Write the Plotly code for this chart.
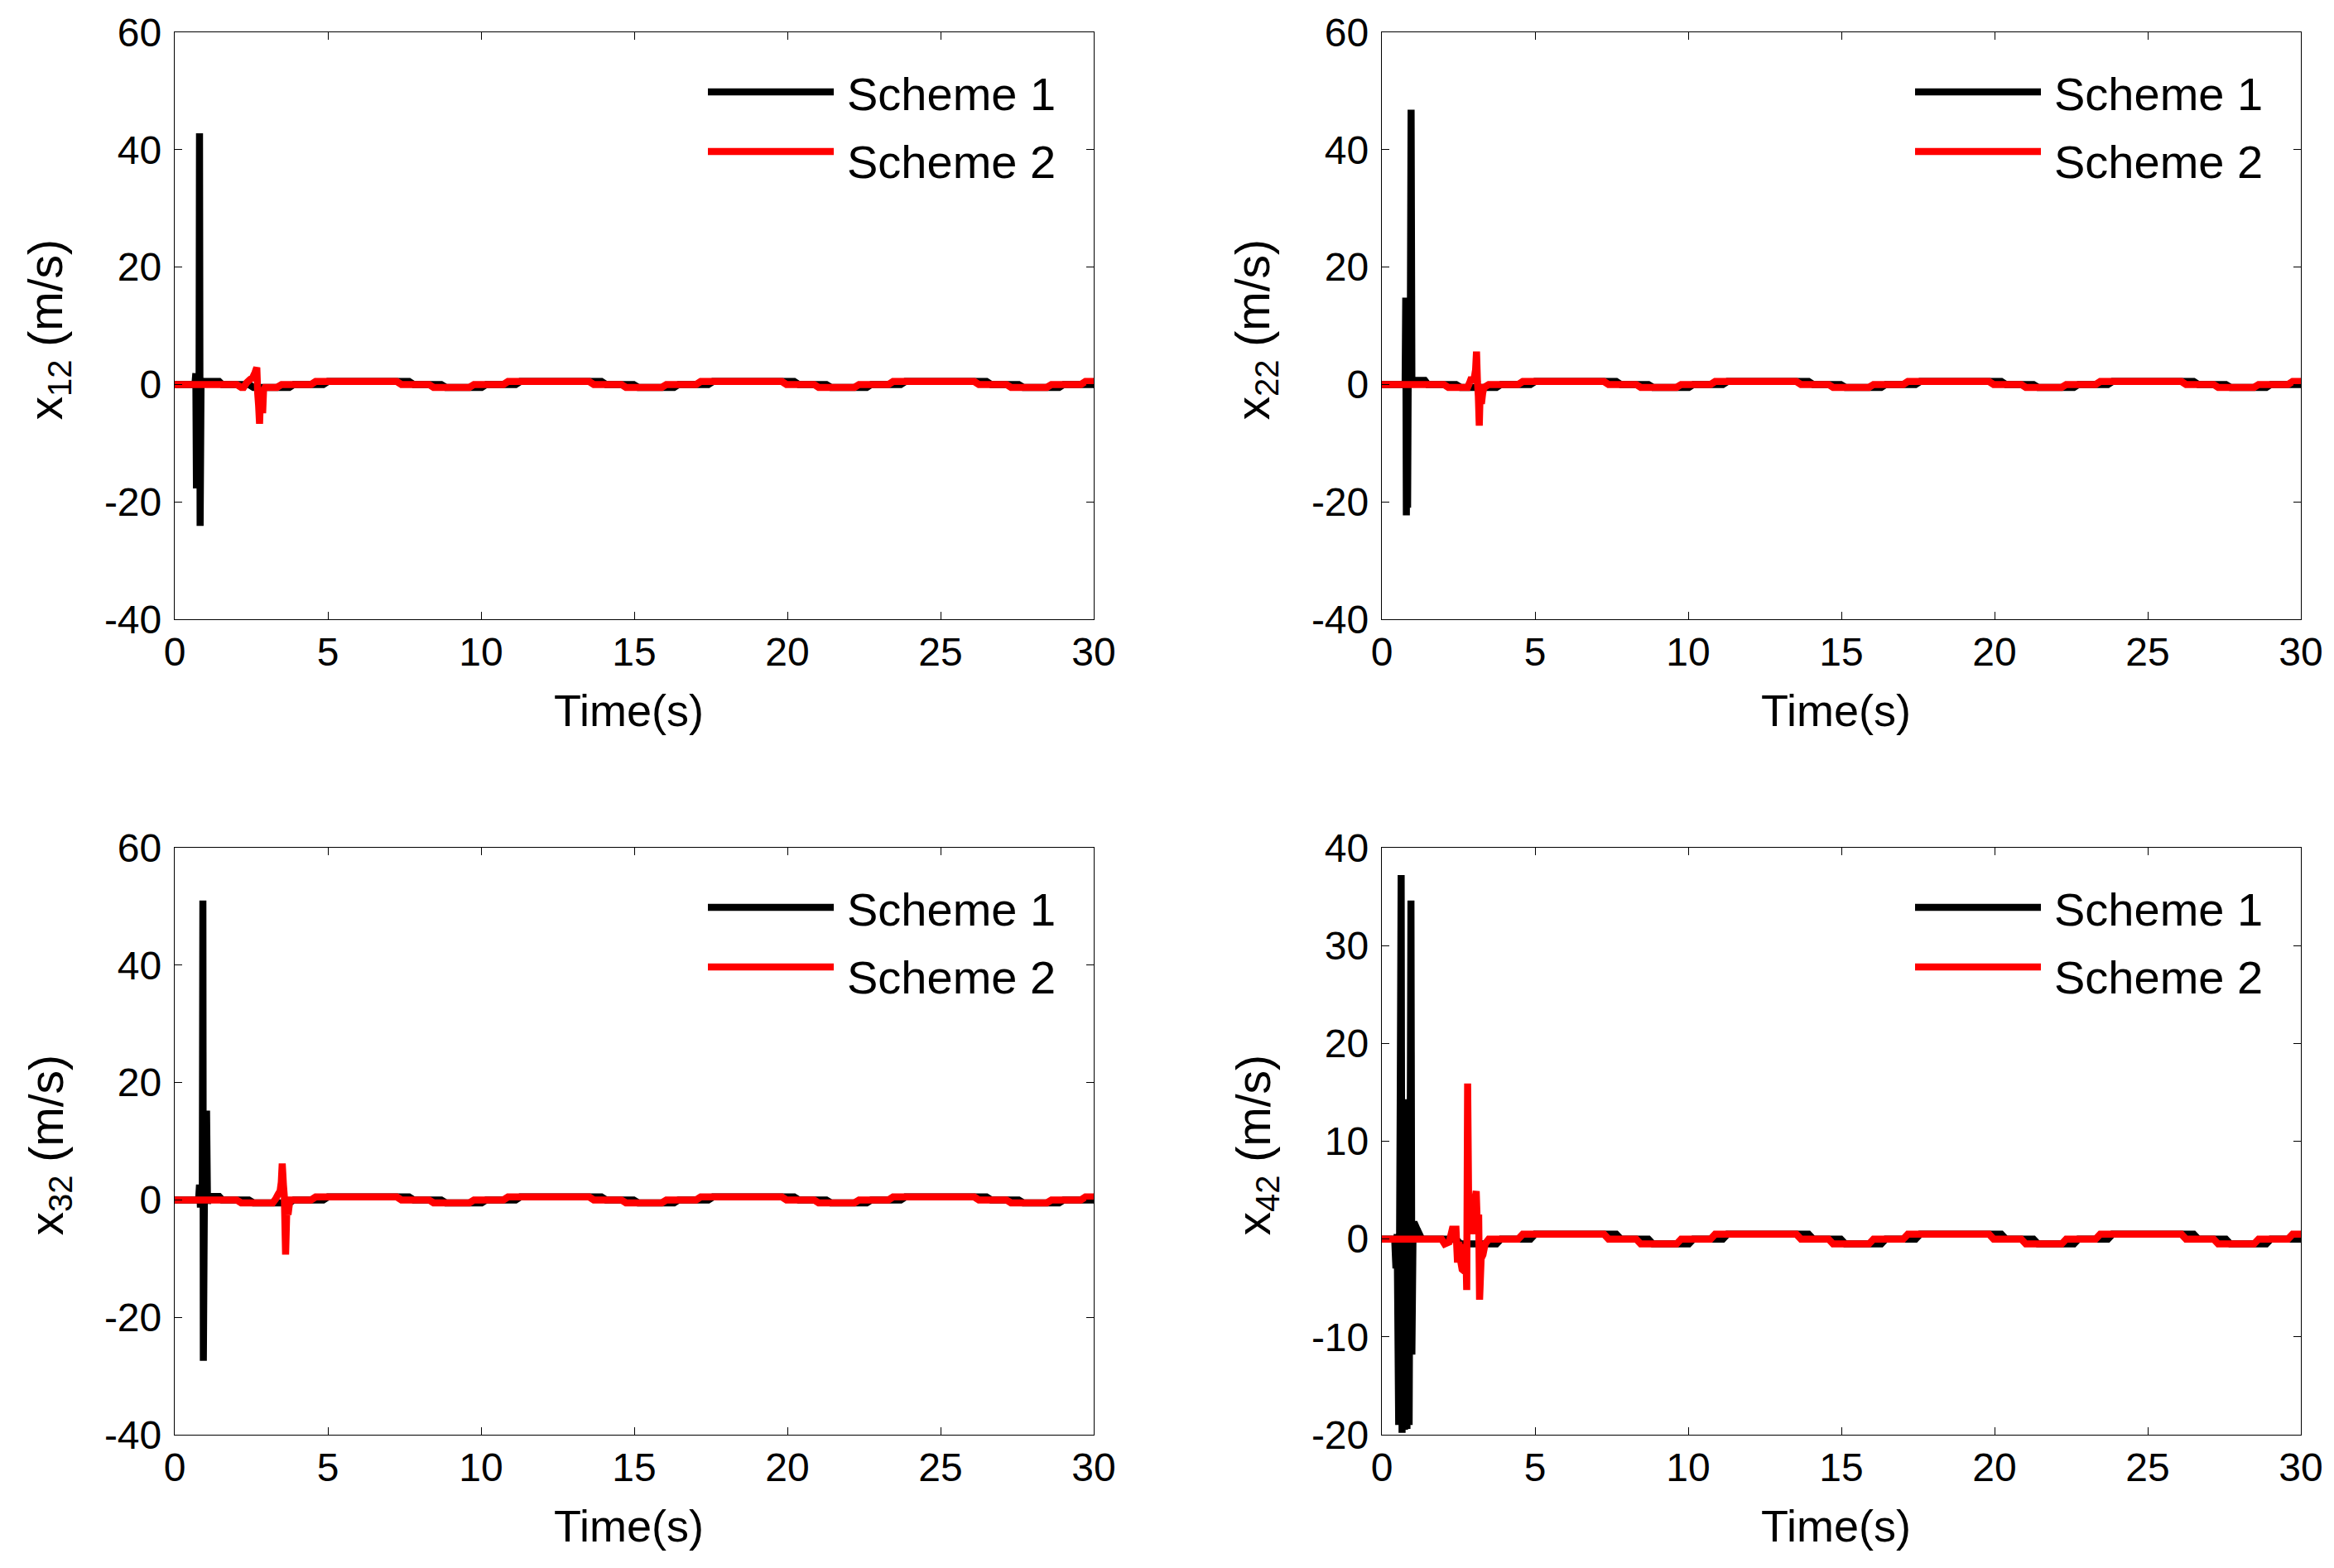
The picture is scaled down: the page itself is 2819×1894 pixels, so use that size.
import plotly.graph_objects as go

W, H = 2819, 1894

# ---------------- data ----------------
# shared tracking staircase (time of each step, level after the step)
ref_step_t = [2.02, 3.34, 4.45, 7.25, 8.30, 9.62, 10.73, 13.53, 14.58, 15.90,
              17.02, 19.82, 20.87, 22.19, 23.30, 26.10, 27.15, 28.47, 29.58]
ref_step_v = [-0.5, 0.0, 0.5, 0.0, -0.5, 0.0, 0.5, 0.0, -0.5, 0.0,
              0.5, 0.0, -0.5, 0.0, 0.5, 0.0, -0.5, 0.0, 0.5]
ref_start = 0.0
ramp = 0.15
s1_lag = 0.40  # Scheme 1 follows the staircase slightly later

# transient parts (time, value)
x12_s1_t = [0, 0.66, 0.69, 0.71, 0.73, 0.75, 0.77, 0.79, 0.81, 0.83, 0.86, 0.90, 1.45, 1.55]
x12_s1_v = [0, 0, 1.9, -17.7, 1.5, -17.0, 1.8, -17.5, 42.8, -24.1, 0.8, 0.5, 0.5, 0]
x12_s2_t = [2.25, 2.35, 2.45, 2.55, 2.62, 2.68, 2.71, 2.74, 2.77, 2.80, 2.84, 2.87, 2.90, 2.95]
x12_s2_v = [-0.5, 0.3, 0.8, 1.2, 2.0, 2.9, -1.5, -3.6, -6.7, -2.0, -1.8, -4.9, -1.0, -0.5]

x22_s1_t = [0, 0.76, 0.78, 0.80, 0.82, 0.84, 0.87, 0.90, 0.93, 0.955, 0.98, 1.02, 1.40, 1.50]
x22_s1_v = [0, 0, 14.8, -22.3, 14.5, -21.0, 13.0, 2.0, 10.0, 46.8, 0.7, 0.7, 0.7, 0.0]
x22_s2_t = [2.80, 2.88, 2.93, 2.98, 3.03, 3.06, 3.09, 3.12, 3.15, 3.18, 3.21, 3.25, 3.29, 3.33]
x22_s2_v = [-0.5, 0.5, 1.2, 0.3, 1.5, 2.5, 5.6, 0.5, -2.0, -7.0, -1.0, -3.3, -1.5, -0.5]

x32_s1_t = [0, 0.78, 0.81, 0.84, 0.87, 0.90, 0.92, 0.935, 0.97, 1.01, 1.04, 1.07, 1.12, 1.45, 1.55]
x32_s1_v = [0, 0, 2.6, -1.3, 2.6, -1.2, 51.0, -27.4, 1.0, -0.5, 15.2, -0.6, 0.6, 0.6, 0.0]
x32_s2_t = [3.20, 3.30, 3.38, 3.44, 3.48, 3.51, 3.55, 3.58, 3.62, 3.66, 3.70, 3.76]
x32_s2_v = [-0.5, 0.2, 1.0, 1.5, 3.0, 6.2, 2.5, 0.5, -9.3, -1.5, -2.5, 0.0]

x42_s1_t = [0, 0.42, 0.46, 0.50, 0.55, 0.60, 0.63, 0.66, 0.70, 0.74, 0.78, 0.82, 0.86,
            0.89, 0.92, 0.95, 0.98, 1.02, 1.08, 1.15, 1.30]
x42_s1_v = [0, 0, -3.0, 0.5, -19.0, 14.0, 37.2, -19.8, 14.3, -19.5, 14.0, -19.4, 14.3,
            -19.0, 5.0, 34.6, -11.8, 1.5, 1.5, 1.0, 0.0]
x42_s2_t = [1.95, 2.05, 2.20, 2.30, 2.42, 2.47, 2.51, 2.56, 2.62, 2.70, 2.74, 2.77, 2.80,
            2.84, 2.90, 2.96, 3.02, 3.08, 3.12, 3.16, 3.19, 3.24, 3.30, 3.37]
x42_s2_v = [0.0, -0.5, -0.3, 1.0, 1.0, -2.4, -0.3, -2.0, -3.1, -3.3, -0.5, -5.2, 15.9,
            1.0, 3.4, 0.5, 3.8, 4.9, 1.0, 2.5, -6.2, -2.0, -1.6, -0.5]

panel_names = ["x12", "x22", "x32", "x42"]
y_ranges = [[-40, 60], [-40, 60], [-40, 60], [-20, 40]]
y_tickvals = [[-40, -20, 0, 20, 40, 60], [-40, -20, 0, 20, 40, 60],
              [-40, -20, 0, 20, 40, 60], [-20, -10, 0, 10, 20, 30, 40]]
x_ticks = [0, 5, 10, 15, 20, 25, 30]
series_names = ["Scheme 1", "Scheme 2"]
series_colors = ["#000000", "#FF0000"]

transients = {
    "x12": ((x12_s1_t, x12_s1_v), (x12_s2_t, x12_s2_v)),
    "x22": ((x22_s1_t, x22_s1_v), (x22_s2_t, x22_s2_v)),
    "x32": ((x32_s1_t, x32_s1_v), (x32_s2_t, x32_s2_v)),
    "x42": ((x42_s1_t, x42_s1_v), (x42_s2_t, x42_s2_v)),
}


def staircase(lag):
    ts, vs, prev = [0.0], [ref_start], ref_start
    for tb, v in zip(ref_step_t, ref_step_v):
        t0 = tb + lag
        if t0 >= 30:
            break
        ts += [t0, min(t0 + ramp, 30.0)]
        vs += [prev, v]
        prev = v
    if ts[-1] < 30:
        ts.append(30.0)
        vs.append(prev)
    return ts, vs


def series(tr_t, tr_v, lag):
    ts, vs = staircase(lag)
    before = [(t, v) for t, v in zip(ts, vs) if t < tr_t[0]]
    after = [(t, v) for t, v in zip(ts, vs) if t > tr_t[-1]]
    pts = before + list(zip(tr_t, tr_v)) + after
    return [p[0] for p in pts], [p[1] for p in pts]


# ---------------- layout geometry (pixels) ----------------
col_x = [(211, 1321), (1669, 2779)]
row_y = [(39, 748), (1024, 1733)]

FONT = "Liberation Sans, Arial, sans-serif"

fig = go.Figure()
layout = dict(width=W, height=H, margin=dict(l=0, r=0, t=0, b=0, pad=0),
              paper_bgcolor="white", plot_bgcolor="white", showlegend=False,
              template="none",
              font=dict(family=FONT, color="black"))
annotations = []
shapes = []

for i, name in enumerate(panel_names):
    r, c = divmod(i, 2)
    x0, x1 = col_x[c]
    y0, y1 = row_y[r]
    ax = "" if i == 0 else str(i + 1)
    xa, ya = "xaxis" + ax, "yaxis" + ax
    common = dict(showgrid=False, zeroline=False, showline=True, linecolor="black",
                  linewidth=1.3, mirror="ticks", ticks="inside", ticklen=9,
                  tickwidth=1.3, tickcolor="black", automargin=False,
                  tickfont=dict(family=FONT, size=48, color="black"))
    layout[xa] = dict(common, domain=[x0 / W, x1 / W], range=[0, 30],
                      tickvals=x_ticks, ticktext=[str(v) for v in x_ticks],
                      anchor="y" + ax, ticklabelstandoff=-3)
    layout[ya] = dict(common, domain=[1 - y1 / H, 1 - y0 / H], range=y_ranges[i],
                      tickvals=y_tickvals[i], ticktext=[str(v) for v in y_tickvals[i]],
                      anchor="x" + ax, ticklabelstandoff=5)

    (s1t, s1v), (s2t, s2v) = transients[name]
    for k, (tt, vv, lag) in enumerate([(s1t, s1v, s1_lag), (s2t, s2v, 0.0)]):
        xs, ys = series(tt, vv, lag)
        fig.add_trace(go.Scatter(x=xs, y=ys, mode="lines", name=series_names[k],
                                 line=dict(color=series_colors[k], width=8.5, simplify=False),
                                 xaxis="x" + ax, yaxis="y" + ax))

    # axis titles
    annotations.append(dict(text="Time(s)", xref="paper", yref="paper",
                            x=((x0 + x1) / 2 - 7) / W, y=1 - (y1 + 110) / H,
                            xanchor="center", yanchor="middle", showarrow=False,
                            font=dict(family=FONT, size=54, color="black")))
    annotations.append(dict(text="x<sub>%s</sub> (m/s)" % name[1:], xref="paper", yref="paper",
                            x=(x0 - 152) / W, y=1 - ((y0 + y1) / 2 + 5) / H,
                            xanchor="center", yanchor="middle", showarrow=False,
                            textangle=-90,
                            font=dict(family=FONT, size=57, color="black")))
    # legend (inside upper right)
    for k in range(2):
        ly = y0 + 72 + 72 * k
        shapes.append(dict(type="line", xref="paper", yref="paper",
                           x0=(x0 + 644) / W, x1=(x0 + 796) / W,
                           y0=1 - ly / H, y1=1 - ly / H,
                           line=dict(color=series_colors[k], width=8.5)))
        annotations.append(dict(text=series_names[k], xref="paper", yref="paper",
                                x=(x0 + 810) / W, y=1 - (ly + 2 + 10 * k) / H,
                                xanchor="left", yanchor="middle", showarrow=False,
                                font=dict(family=FONT, size=56, color="black")))

layout["annotations"] = annotations
layout["shapes"] = shapes
fig.update_layout(**layout)
fig.write_html("out.html")
